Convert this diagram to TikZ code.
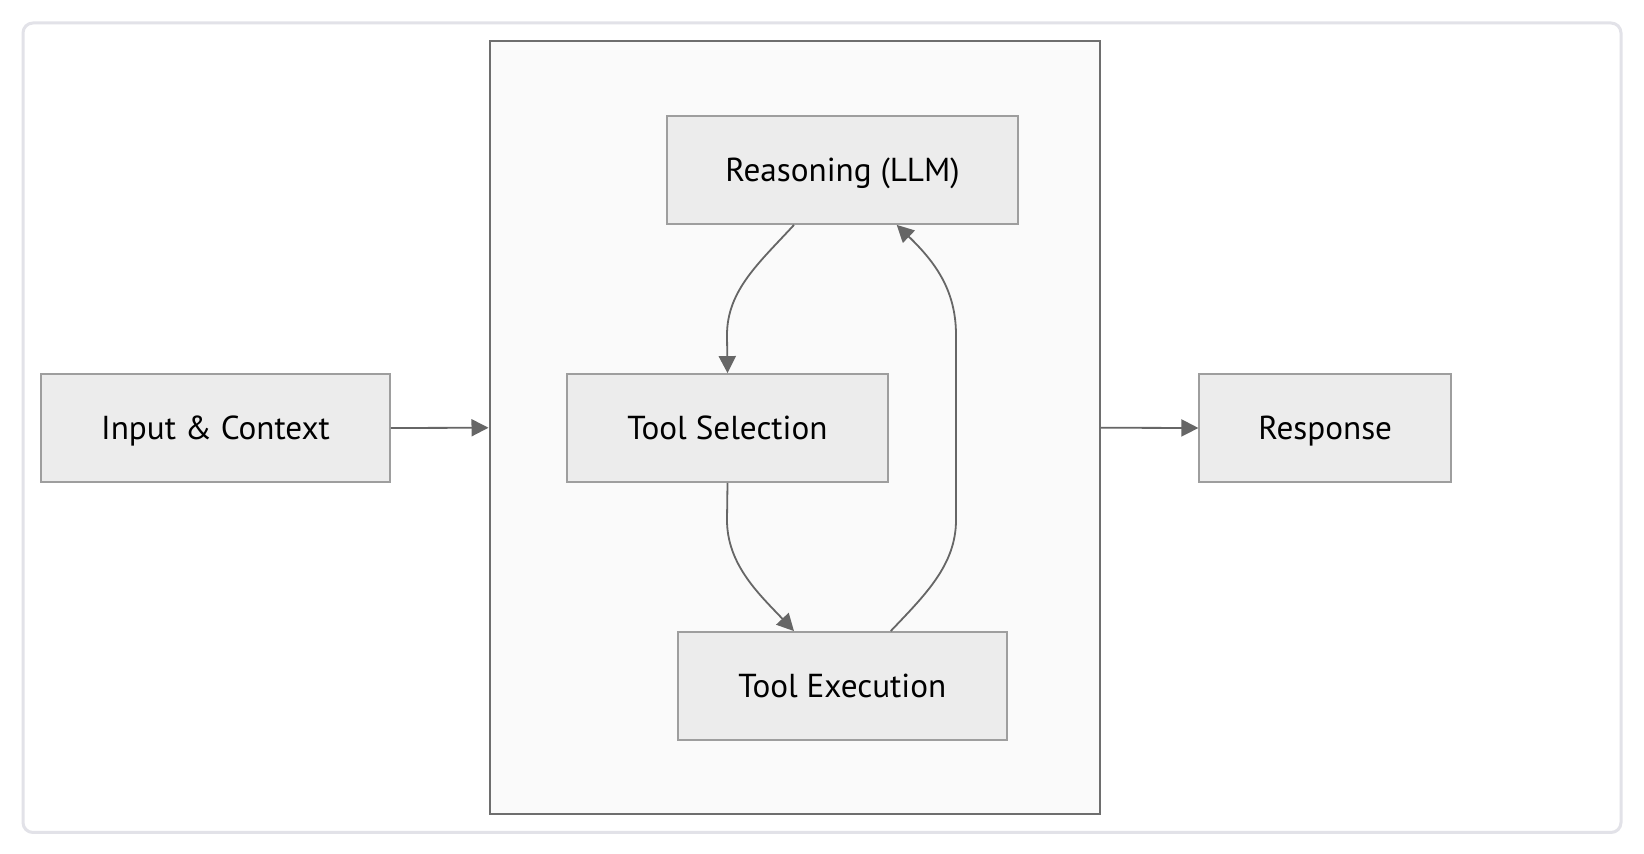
\documentclass[tikz,border=0pt]{standalone}
\usepackage{fontspec}
\setmainfont{PT Sans}
\usetikzlibrary{arrows.meta,calc}
\definecolor{nodefill}{HTML}{ECECEC}
\definecolor{nodeline}{HTML}{9E9E9E}
\definecolor{clfill}{HTML}{FAFAFA}
\definecolor{clline}{HTML}{6E6E6E}
\definecolor{edge}{HTML}{666666}
\definecolor{outer}{HTML}{E2E2E8}
\begin{document}
\begin{tikzpicture}[x=0.5pt,y=-0.5pt,
  box/.style={draw=nodeline,fill=nodefill,line width=0.9pt,rectangle,inner sep=0pt,
    minimum height=54pt,text height=11.6pt,text depth=0pt,
    font=\fontsize{16.6}{19}\selectfont,text=black},
  conn/.style={draw=edge,line width=0.9pt,-{Triangle[length=8.5pt,width=8.5pt]}},
]
\useasboundingbox (0,0) rectangle (1644,854);
\fill[white] (0,0) rectangle (1644,854);
\draw[outer,line width=1.5pt,rounded corners=5pt] (23,23) rectangle (1621,832.5);
\node[draw=clline,fill=clfill,line width=1pt,rectangle,inner sep=0pt,
  minimum width=305.25pt,minimum height=386.75pt] (loop) at (794.75,427.75) {};
\node[box,minimum width=174.5pt] (input) at (215.5,428) {Input \& Context};
\node[box,minimum width=160.5pt] (sel) at (727.5,428) {Tool Selection};
\node[box,minimum width=175.8pt] (reason) at (842.5,170) {Reasoning (LLM)};
\node[box,minimum width=164.7pt] (exec) at (842.3,686) {Tool Execution};
\node[box,minimum width=125.9pt] (resp) at (1325.2,428) {Response};
\draw[conn] (input.east) -- (loop.west);
\draw[conn] (loop.east) -- (resp.west);
\draw[conn] ($(reason.south)+(-48.5,0)$) .. controls (760,262) and (727,290) .. (727,335) -- (sel.north);
\draw[conn] (sel.south) -- (727,520) .. controls (727,565) and (760,595) .. ($(exec.north)+(-48.3,0)$);
\draw[conn] ($(exec.north)+(48.4,0)$) .. controls (925,595) and (956,565) .. (956,520) -- (956,335) .. controls (956,290) and (935,262) .. ($(reason.south)+(54.2,0)$);
\end{tikzpicture}
\end{document}
